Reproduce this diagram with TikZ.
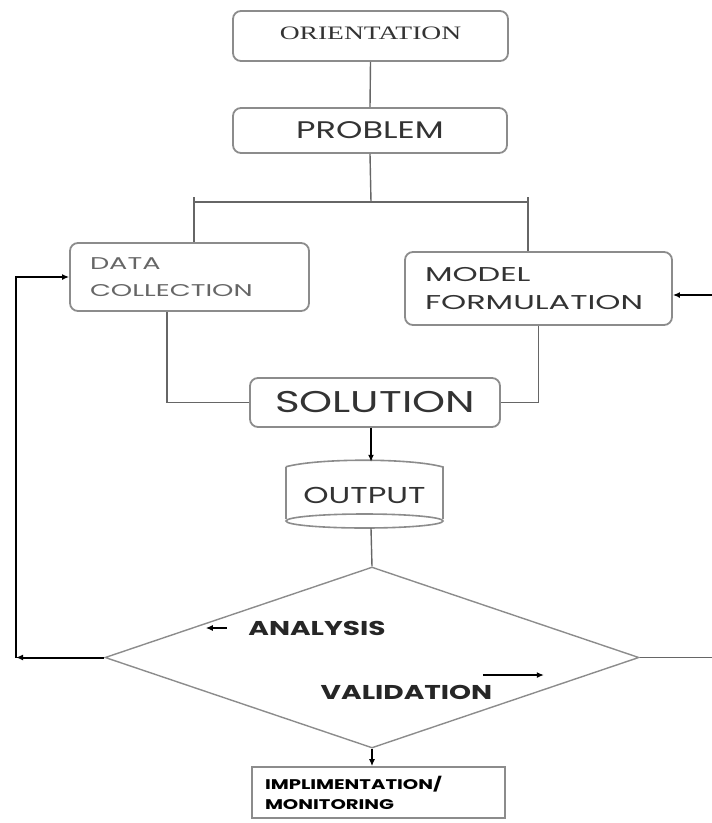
\documentclass[tikz,border=0pt]{standalone}
\usepackage{fontspec}
\setmainfont{Poppins}
\newfontfamily\chartfont[FakeStretch=1.4]{Poppins}
\newfontfamily\chartwide[FakeStretch=1.6]{Poppins}
\newfontfamily\orientfont[FakeStretch=1.45]{Liberation Serif}
\usepackage{xcolor}
\usetikzlibrary{shapes.geometric,arrows.meta}

\definecolor{boxgray}{gray}{0.55}
\definecolor{linegray}{gray}{0.4}
\definecolor{textgray}{gray}{0.2}

\tikzset{
  stage/.style={draw=boxgray, line width=1.8pt, rounded corners=8pt, inner sep=0pt, text=textgray},
  link/.style={draw=linegray, line width=1.4pt},
  arrow/.style={link, draw=black, -{Latex[length=7pt,width=6pt]}},
  tag/.style={font=\chartfont\bfseries\fontsize{20}{20}\selectfont, text=black!85},
}

\begin{document}
\begin{tikzpicture}[x=1pt, y=-1pt]

    \useasboundingbox (0,0) rectangle (712,823);

    % Top of the chart
    \node[stage, minimum width=275, minimum height=50] (orient) at (370.5,36)
        {\raisebox{6pt}{\orientfont\fontsize{19}{19}\selectfont ORIENTATION}};
    \node[stage, minimum width=274, minimum height=45, font=\chartfont\fontsize{24}{24}\selectfont] (prob) at (370,130.5) {PROBLEM};

    % The two branches under the problem
    \node[stage, minimum width=239, minimum height=68, text width=199, align=left, text=linegray,
          font=\chartwide\fontsize{17}{27}\selectfont] (data) at (189.5,277) {DATA\\COLLECTION};
    \node[stage, minimum width=267, minimum height=73, text width=227, align=left,
          font=\chartwide\fontsize{20}{28}\selectfont] (model) at (538.5,288.5) {MODEL\\FORMULATION};

    \node[stage, minimum width=250, minimum height=49, font=\chartfont\fontsize{30}{30}\selectfont] (sol) at (375,402.5) {SOLUTION};

    % Output drum, its outline is drawn by hand
    \node[minimum width=157, minimum height=66, inner sep=0pt, text=textgray,
          font=\chartfont\fontsize{23}{23}\selectfont] (out) at (364.5,495) {OUTPUT};
    \draw[boxgray, line width=1.6pt]
        (out.north west) ++(0,5) .. controls (318,458) and (411,458) .. (443,467)
        -- (443,519) (286,467) -- (286,519);
    \draw[boxgray, line width=1.6pt] (364.5,521) ellipse (78.5 and 7);

    % Decision
    \node[draw=boxgray, line width=1.4pt, diamond, aspect=2.95, minimum width=534, minimum height=181, inner sep=0pt] (dia) at (372,657.5) {};
    \node[tag] (ana) at (317,628) {ANALYSIS};
    \node[tag] (val) at (406.5,692) {VALIDATION};

    \node[draw=boxgray, line width=1.6pt, minimum width=253, minimum height=51, text width=227, align=left, inner sep=0pt,
          font=\chartfont\bfseries\fontsize{14}{20}\selectfont] (impl) at (378.5,792.5) {IMPLIMENTATION/\\MONITORING};

    % Connectors
    \coordinate (axis) at (371,0);
    \coordinate (split) at (371,202);
    \coordinate (barL) at (194,202);
    \coordinate (barR) at (528,202);
    \draw[link] (orient.south) -- (prob.north);
    \draw[link] (prob.south) -- (split);
    \draw[link] (barL) -- (barR);
    \draw[link] ([yshift=5]barL) -- (barL |- data.north);
    \draw[link] ([yshift=5]barR) -- (barR |- model.north);
    \draw[link] ([xshift=-22.5]data.south) |- (sol.west);
    \draw[link] (model.south) |- (sol.east);
    \draw[arrow, line width=1.8pt] (sol.south -| axis) -- (out.north -| axis);
    \draw[link] (out.south -| axis) -- (dia.north);
    \draw[arrow] (dia.south) -- (dia.south |- impl.north);

    % Feedback loops
    \coordinate (loopL) at (16,657.5);
    \coordinate (loopR) at (712,657.5);
    \coordinate (backR) at (712,295);
    \draw[arrow, line width=2pt] (dia.west) -- (loopL);
    \draw[arrow, line width=2pt] (loopL) |- (data.west);
    \draw[link] (dia.east) -- (loopR);
    \draw[arrow] (backR) -- (model.east |- backR);

    % Little arrows by the labels
    \draw[arrow, line width=1.2pt] ([xshift=-18]ana.west) -- ++(-21,0);
    \draw[arrow, line width=1.2pt] ([xshift=-13,yshift=17]val.east) -- ++(61,0);

\end{tikzpicture}
\end{document}
